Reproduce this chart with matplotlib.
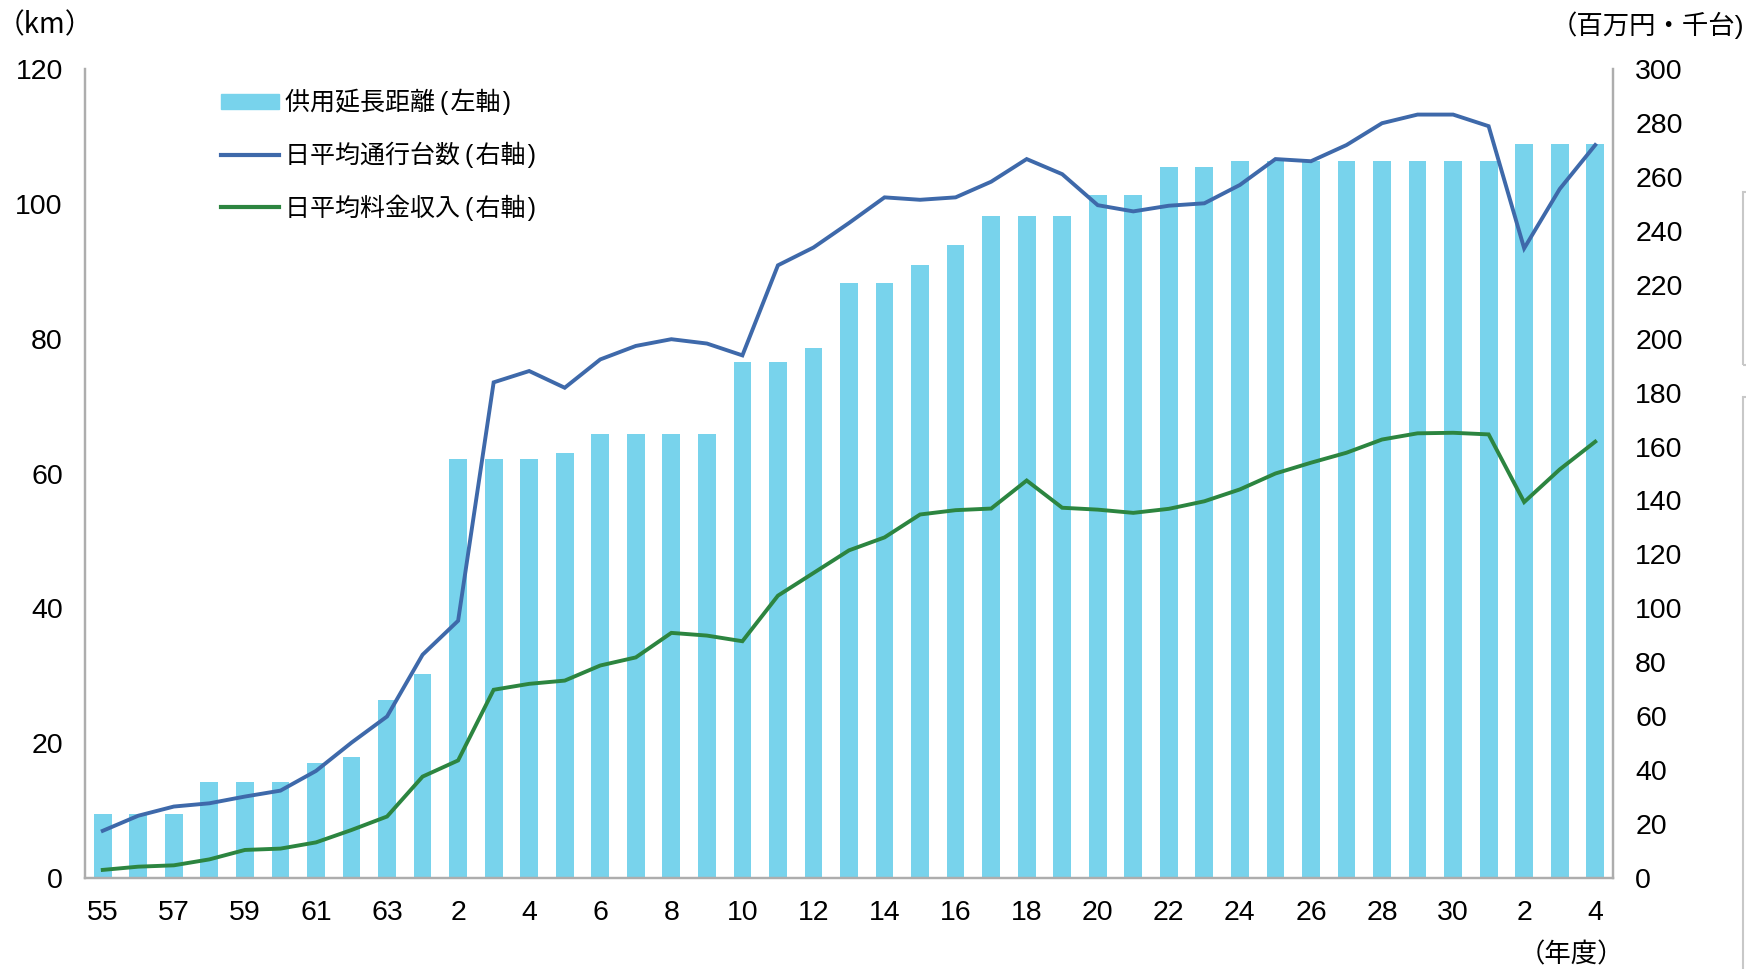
import numpy as np
import matplotlib
matplotlib.use("Agg")
import matplotlib.pyplot as plt
from matplotlib.patches import Patch, Rectangle
from matplotlib.lines import Line2D

plt.rcParams['font.family'] = ['Liberation Sans', 'Noto Sans CJK JP', 'DejaVu Sans']

# fiscal years: Showa 55-63, Heisei 1-31 (R1 merged), Reiwa 2-4
years = ['55', '56', '57', '58', '59', '60', '61', '62', '63'] + \
        [str(n) for n in range(1, 32)] + ['2', '3', '4']

# 供用延長距離 (km, left axis)
length_km = [9.5, 9.5, 9.5, 14.2, 14.2, 14.2, 17.0, 18.0, 26.4, 30.3,
             62.1, 62.1, 62.1, 63.0, 65.8, 65.8, 65.8, 65.8, 76.6, 76.6,
             78.6, 88.2, 88.2, 90.9, 93.9, 98.2, 98.2, 98.2, 101.3, 101.3,
             105.4, 105.4, 106.3, 106.3, 106.3, 106.3, 106.3, 106.3, 106.3, 106.3,
             108.9, 108.9, 108.9]

# 日平均通行台数 (千台, right axis)
traffic = [17.5, 23.1, 26.5, 27.7, 30.2, 32.4, 39.7, 50.2, 59.9, 82.8,
           95.4, 183.8, 188.0, 181.8, 192.3, 197.3, 199.8, 198.2, 193.8, 227.2,
           233.8, 242.9, 252.4, 251.5, 252.4, 258.2, 266.6, 261.0, 249.5, 247.2,
           249.3, 250.2, 257.0, 266.6, 265.8, 271.8, 279.9, 283.1, 283.1, 278.8,
           233.5, 255.5, 271.8]

# 日平均料金収入 (百万円, right axis)
revenue = [3.0, 4.2, 4.7, 6.9, 10.4, 10.9, 13.2, 17.8, 22.8, 37.6,
           43.6, 69.8, 72.0, 73.2, 78.8, 81.8, 90.9, 89.9, 87.8, 104.7,
           113.1, 121.5, 126.3, 134.8, 136.4, 137.0, 147.4, 137.3, 136.6, 135.4,
           136.9, 139.7, 144.1, 150.0, 154.0, 157.7, 162.6, 164.9, 165.1, 164.5,
           139.4, 151.5, 161.8]

labels = ['供用延長距離\u2009(\u200a左軸\u200a)',
          '日平均通行台数\u2009(\u200a右軸\u200a)',
          '日平均料金収入\u2009(\u200a右軸\u200a)']

bar_color = '#78D3EC'
blue = '#3E69AA'
green = '#2C8540'
spine_gray = '#ADADAD'

x = np.arange(len(years))

fig = plt.figure(figsize=(17.46, 9.69), dpi=100)
ax = fig.add_axes([85 / 1746, 1 - 878 / 969, (1613 - 85) / 1746, (878 - 69) / 969])
ax.bar(x, length_km, width=0.5, color=bar_color, zorder=2)
ax.set_xlim(-0.5, len(years) - 0.5)
ax.set_ylim(0, 120)
ax.set_yticks(np.arange(0, 121, 20))

ax2 = ax.twinx()
ax2.plot(x, traffic, color=blue, lw=2.8, solid_joinstyle='miter', zorder=3)
ax2.plot(x, revenue, color=green, lw=2.8, solid_joinstyle='miter', zorder=3)
ax2.set_ylim(0, 300)
ax2.set_yticks(np.arange(0, 301, 20))

ax.set_xticks(x[::2])
ax.set_xticklabels(years[::2])

for a in (ax, ax2):
    a.spines['top'].set_visible(False)
    for s in ('left', 'right', 'bottom'):
        a.spines[s].set_color(spine_gray)
        a.spines[s].set_linewidth(1.6)
    a.tick_params(length=0, labelsize=20.5, pad=16)

jp = ['Liberation Sans', 'Noto Sans CJK JP', 'DejaVu Sans']
cjk = ['Noto Sans CJK JP', 'DejaVu Sans']

handles = [Patch(color=bar_color),
           Line2D([], [], color=blue, lw=3),
           Line2D([], [], color=green, lw=3)]
fig.legend(handles, labels, loc='upper left',
           bbox_to_anchor=(211 / 1746, 1 - 79 / 969),
           frameon=False, prop={'family': jp, 'size': 18},
           handlelength=2.3, handleheight=0.55, handletextpad=0.25,
           labelspacing=1.05, borderaxespad=0)

fig.text(-3 / 1746, 1 - 25 / 969, '（km）', fontsize=20, ha='left', va='center',
         family=cjk)
fig.text(1744 / 1746, 1 - 25 / 969, '（百万円・千台)', fontsize=19, ha='right',
         va='center', family=jp)
fig.text(1624 / 1746, 1 - 955 / 969, '（年度）', fontsize=19, ha='right',
         va='center', family=cjk)

# partially visible boxes at the right edge of the source image
fig.patches.append(Rectangle((1743 / 1746, 1 - 365 / 969), 0.01, (365 - 192) / 969,
                             transform=fig.transFigure, fill=False,
                             edgecolor='#C8C8C8', lw=1.5))
fig.patches.append(Rectangle((1743 / 1746, -0.01), 0.01, 1 - 397 / 969 + 0.01,
                             transform=fig.transFigure, fill=False,
                             edgecolor='#C8C8C8', lw=1.5))

fig.savefig('out.png', dpi=100)
